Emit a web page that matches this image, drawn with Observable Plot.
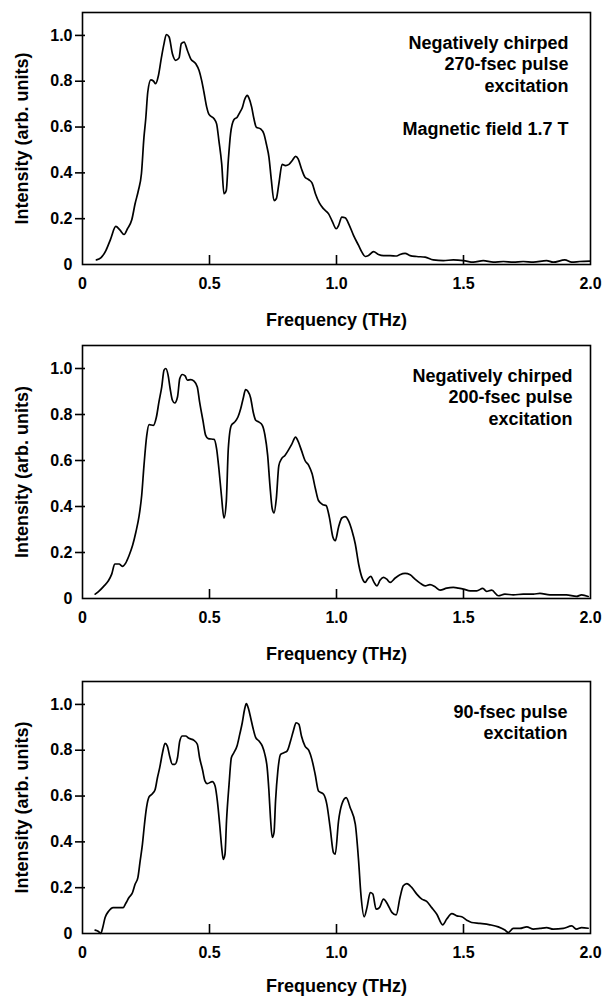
<!DOCTYPE html>
<html><head><meta charset="utf-8">
<script src="https://cdn.jsdelivr.net/npm/d3@7"></script>
<script src="https://cdn.jsdelivr.net/npm/@observablehq/plot@0.6"></script>
<style>body{margin:0;background:#fff;} svg{display:block;}</style>
</head><body><div id="chart"></div>
<script>
const freq1 = [0.055,0.072,0.092,0.111,0.131,0.147,0.164,0.177,0.194,0.207,0.220,0.232,0.242,0.249,0.257,0.269,0.279,0.288,0.299,0.311,0.321,0.330,0.341,0.354,0.367,0.380,0.389,0.400,0.413,0.426,0.446,0.459,0.469,0.478,0.489,0.498,0.518,0.528,0.537,0.548,0.557,0.566,0.574,0.583,0.596,0.609,0.620,0.629,0.638,0.649,0.655,0.666,0.675,0.684,0.701,0.714,0.725,0.734,0.743,0.754,0.763,0.773,0.786,0.799,0.813,0.826,0.839,0.849,0.862,0.876,0.891,0.904,0.917,0.933,0.949,0.969,0.982,0.999,1.008,1.021,1.034,1.051,1.067,1.087,1.100,1.113,1.126,1.146,1.165,1.185,1.211,1.237,1.250,1.270,1.290,1.316,1.349,1.381,1.421,1.460,1.500,1.539,1.578,1.617,1.657,1.696,1.735,1.775,1.827,1.853,1.899,1.926,1.958,1.998];
const int1 = [0.020,0.029,0.061,0.112,0.166,0.151,0.131,0.156,0.195,0.265,0.323,0.396,0.556,0.636,0.753,0.806,0.801,0.789,0.825,0.905,0.964,1.004,0.993,0.920,0.891,0.902,0.964,0.971,0.934,0.898,0.876,0.847,0.804,0.753,0.687,0.655,0.636,0.614,0.541,0.440,0.309,0.323,0.454,0.571,0.632,0.643,0.665,0.684,0.719,0.738,0.727,0.687,0.636,0.600,0.592,0.571,0.520,0.469,0.374,0.279,0.287,0.352,0.437,0.432,0.437,0.454,0.472,0.461,0.418,0.381,0.370,0.355,0.309,0.268,0.243,0.221,0.192,0.156,0.170,0.207,0.204,0.170,0.127,0.083,0.054,0.035,0.039,0.056,0.044,0.039,0.039,0.037,0.044,0.049,0.039,0.035,0.032,0.020,0.017,0.020,0.017,0.010,0.017,0.010,0.013,0.010,0.013,0.010,0.017,0.010,0.020,0.010,0.013,0.015];

const freq2 = [0.050,0.066,0.085,0.102,0.115,0.127,0.144,0.157,0.170,0.183,0.197,0.210,0.223,0.233,0.242,0.253,0.262,0.279,0.291,0.301,0.312,0.321,0.328,0.337,0.345,0.354,0.363,0.374,0.383,0.393,0.404,0.413,0.426,0.439,0.452,0.461,0.474,0.485,0.495,0.518,0.528,0.537,0.547,0.557,0.566,0.574,0.586,0.599,0.612,0.623,0.633,0.642,0.651,0.662,0.672,0.682,0.695,0.708,0.718,0.729,0.738,0.747,0.754,0.763,0.773,0.784,0.797,0.810,0.823,0.839,0.849,0.862,0.876,0.891,0.904,0.917,0.929,0.947,0.959,0.972,0.986,0.995,1.008,1.021,1.034,1.047,1.061,1.074,1.087,1.100,1.113,1.122,1.135,1.148,1.159,1.172,1.185,1.198,1.211,1.231,1.250,1.270,1.290,1.309,1.329,1.349,1.368,1.388,1.408,1.434,1.460,1.480,1.500,1.526,1.552,1.576,1.591,1.611,1.637,1.663,1.696,1.735,1.775,1.801,1.840,1.905,1.945,1.965,1.991];
const int2 = [0.019,0.033,0.055,0.077,0.106,0.150,0.150,0.140,0.154,0.186,0.230,0.288,0.360,0.448,0.578,0.709,0.756,0.753,0.789,0.855,0.920,0.993,1.000,0.971,0.913,0.862,0.850,0.876,0.956,0.974,0.968,0.949,0.952,0.945,0.920,0.855,0.775,0.709,0.695,0.692,0.651,0.564,0.448,0.349,0.419,0.651,0.753,0.767,0.789,0.826,0.872,0.908,0.901,0.872,0.811,0.775,0.767,0.753,0.712,0.622,0.491,0.390,0.372,0.433,0.578,0.608,0.622,0.644,0.669,0.702,0.683,0.644,0.600,0.578,0.542,0.477,0.426,0.408,0.404,0.353,0.266,0.251,0.310,0.350,0.356,0.339,0.295,0.237,0.150,0.092,0.070,0.084,0.096,0.070,0.055,0.080,0.092,0.084,0.070,0.089,0.103,0.109,0.103,0.084,0.067,0.055,0.060,0.051,0.036,0.045,0.048,0.045,0.041,0.033,0.033,0.044,0.031,0.036,0.012,0.019,0.016,0.019,0.019,0.022,0.016,0.016,0.009,0.016,0.009];

const freq3 = [0.050,0.063,0.072,0.079,0.089,0.102,0.121,0.142,0.160,0.170,0.183,0.197,0.207,0.218,0.227,0.236,0.244,0.252,0.262,0.275,0.286,0.295,0.304,0.315,0.325,0.334,0.343,0.354,0.364,0.374,0.383,0.393,0.406,0.419,0.439,0.452,0.461,0.472,0.482,0.491,0.511,0.522,0.531,0.540,0.548,0.554,0.561,0.567,0.577,0.586,0.596,0.609,0.619,0.629,0.638,0.645,0.653,0.662,0.671,0.682,0.695,0.708,0.718,0.727,0.734,0.740,0.747,0.754,0.760,0.769,0.780,0.793,0.806,0.819,0.830,0.841,0.852,0.862,0.876,0.891,0.903,0.916,0.929,0.949,0.962,0.975,0.988,0.995,1.008,1.021,1.038,1.054,1.074,1.087,1.096,1.109,1.120,1.133,1.143,1.156,1.169,1.185,1.201,1.218,1.235,1.250,1.263,1.277,1.296,1.316,1.336,1.355,1.375,1.395,1.418,1.434,1.454,1.474,1.493,1.513,1.532,1.565,1.604,1.637,1.663,1.676,1.696,1.722,1.749,1.775,1.801,1.827,1.853,1.893,1.926,1.945,1.965,1.991];
const int3 = [0.015,0.009,0.000,0.023,0.070,0.096,0.113,0.113,0.113,0.131,0.157,0.179,0.215,0.244,0.317,0.390,0.477,0.549,0.596,0.610,0.629,0.680,0.724,0.789,0.830,0.818,0.775,0.738,0.738,0.767,0.840,0.862,0.862,0.852,0.843,0.826,0.767,0.717,0.666,0.654,0.663,0.644,0.578,0.477,0.375,0.324,0.346,0.491,0.651,0.767,0.789,0.821,0.869,0.920,0.978,1.003,0.983,0.942,0.898,0.855,0.840,0.818,0.782,0.724,0.622,0.506,0.419,0.440,0.578,0.709,0.782,0.789,0.797,0.840,0.884,0.920,0.913,0.862,0.818,0.799,0.760,0.695,0.622,0.608,0.564,0.462,0.353,0.346,0.491,0.564,0.593,0.549,0.477,0.317,0.172,0.073,0.113,0.179,0.172,0.106,0.113,0.150,0.128,0.092,0.081,0.157,0.208,0.218,0.201,0.172,0.150,0.140,0.113,0.084,0.038,0.063,0.087,0.077,0.073,0.058,0.048,0.044,0.038,0.029,0.015,0.004,0.022,0.022,0.029,0.019,0.022,0.026,0.019,0.022,0.033,0.019,0.026,0.023];

const note1 = "Negatively chirped\n270-fsec pulse\nexcitation\n\nMagnetic field 1.7 T";
const note2 = "Negatively chirped\n200-fsec pulse\nexcitation";
const note3 = "90-fsec pulse\nexcitation";
const xTicks = [0, 0.5, 1.0, 1.5, 2.0];
const yTicks = [0, 0.2, 0.4, 0.6, 0.8, 1.0];
const xLabel = "Frequency (THz)";
const yLabel = "Intensity (arb. units)";

const FONT = "'Liberation Sans', Arial, Helvetica, sans-serif";
const fmt = d => d === 0 ? "0" : d.toFixed(1);

function stretch(svg, sel, s) {
  svg.querySelectorAll(sel).forEach(t => {
    const tr = t.getAttribute("transform");
    if (tr) t.setAttribute("transform", tr + ` scale(${s},1)`);
    else {
      const x = +t.getAttribute("x") || 0, y = +t.getAttribute("y") || 0;
      t.setAttribute("transform", `translate(${x},${y}) scale(${s},1) translate(${-x},${-y})`);
    }
  });
}

function panel(freq, inten, note, opt) {
  const data = freq.map((f, i) => ({f, v: inten[i]}));
  const W = 607, mL = 82, mR = 17;
  const plotH = opt.height - opt.mt - opt.mb;
  const plotW = W - mL - mR;
  const txt = {fontFamily: FONT, fontWeight: "bold", fill: "black"};
  const svg = Plot.plot({
    width: W, height: opt.height,
    marginLeft: mL, marginRight: mR, marginTop: opt.mt, marginBottom: opt.mb,
    x: {domain: [0, 2], axis: null},
    y: {domain: [0, 1.1], axis: null},
    marks: [
      Plot.line(data, {x: "f", y: "v", stroke: "black", strokeWidth: 1.7, curve: "monotone-x"}),
      Plot.frame({stroke: "black", strokeWidth: 1.6}),
      // tick labels through the scales
      Plot.text(xTicks, {x: d => d, frameAnchor: "bottom", lineAnchor: "top", dy: 13, text: fmt, fontSize: 16, ariaLabel: "xtick-label", ...txt}),
      Plot.text(yTicks, {y: d => d, frameAnchor: "left", textAnchor: "end", lineAnchor: "middle", dx: -10, text: fmt, fontSize: 16, ariaLabel: "ytick-label", ...txt}),
      Plot.text([note], {frameAnchor: "top-right", textAnchor: "end", lineAnchor: "top", lineHeight: 1.2, dx: opt.ndx, dy: 21, fontSize: 18, ariaLabel: "note", ...txt}),
      Plot.text([xLabel], {frameAnchor: "bottom", lineAnchor: "top", dy: opt.xdy, fontSize: 18, ariaLabel: "xlabel", ...txt}),
      Plot.text([yLabel], {frameAnchor: "left", rotate: -90, textAnchor: "middle", lineAnchor: "middle", dx: -60, fontSize: 18, ariaLabel: "ylabel", ...txt}),
      // inward x ticks and crossing y ticks, drawn on top
      Plot.ruleX(xTicks.filter(d => d > 0 && d < 2), {insetTop: plotH - 9, stroke: "black", strokeWidth: 1.6}),
      Plot.ruleY(yTicks.filter(d => d > 0), {insetLeft: -7, insetRight: plotW - 3, stroke: "black", strokeWidth: 1.6})
    ]
  });
  stretch(svg, 'g[aria-label="xtick-label"] text', 1.13);
  stretch(svg, 'g[aria-label="ytick-label"] text', 1.13);
  stretch(svg, 'g[aria-label="note"] text', 1.17);
  stretch(svg, 'g[aria-label="xlabel"] text', 1.15);
  stretch(svg, 'g[aria-label="ylabel"] text', 1.2);
  return svg;
}

const root = document.getElementById("chart");
root.appendChild(panel(freq1, int1, note1, {height: 333, mt: 12, mb: 69, ndx: -22, xdy: 49}));
root.appendChild(panel(freq2, int2, note2, {height: 333, mt: 12, mb: 68, ndx: -18, xdy: 49}));
root.appendChild(panel(freq3, int3, note3, {height: 330, mt: 15, mb: 63, ndx: -23, xdy: 46}));
</script>
</body></html>
